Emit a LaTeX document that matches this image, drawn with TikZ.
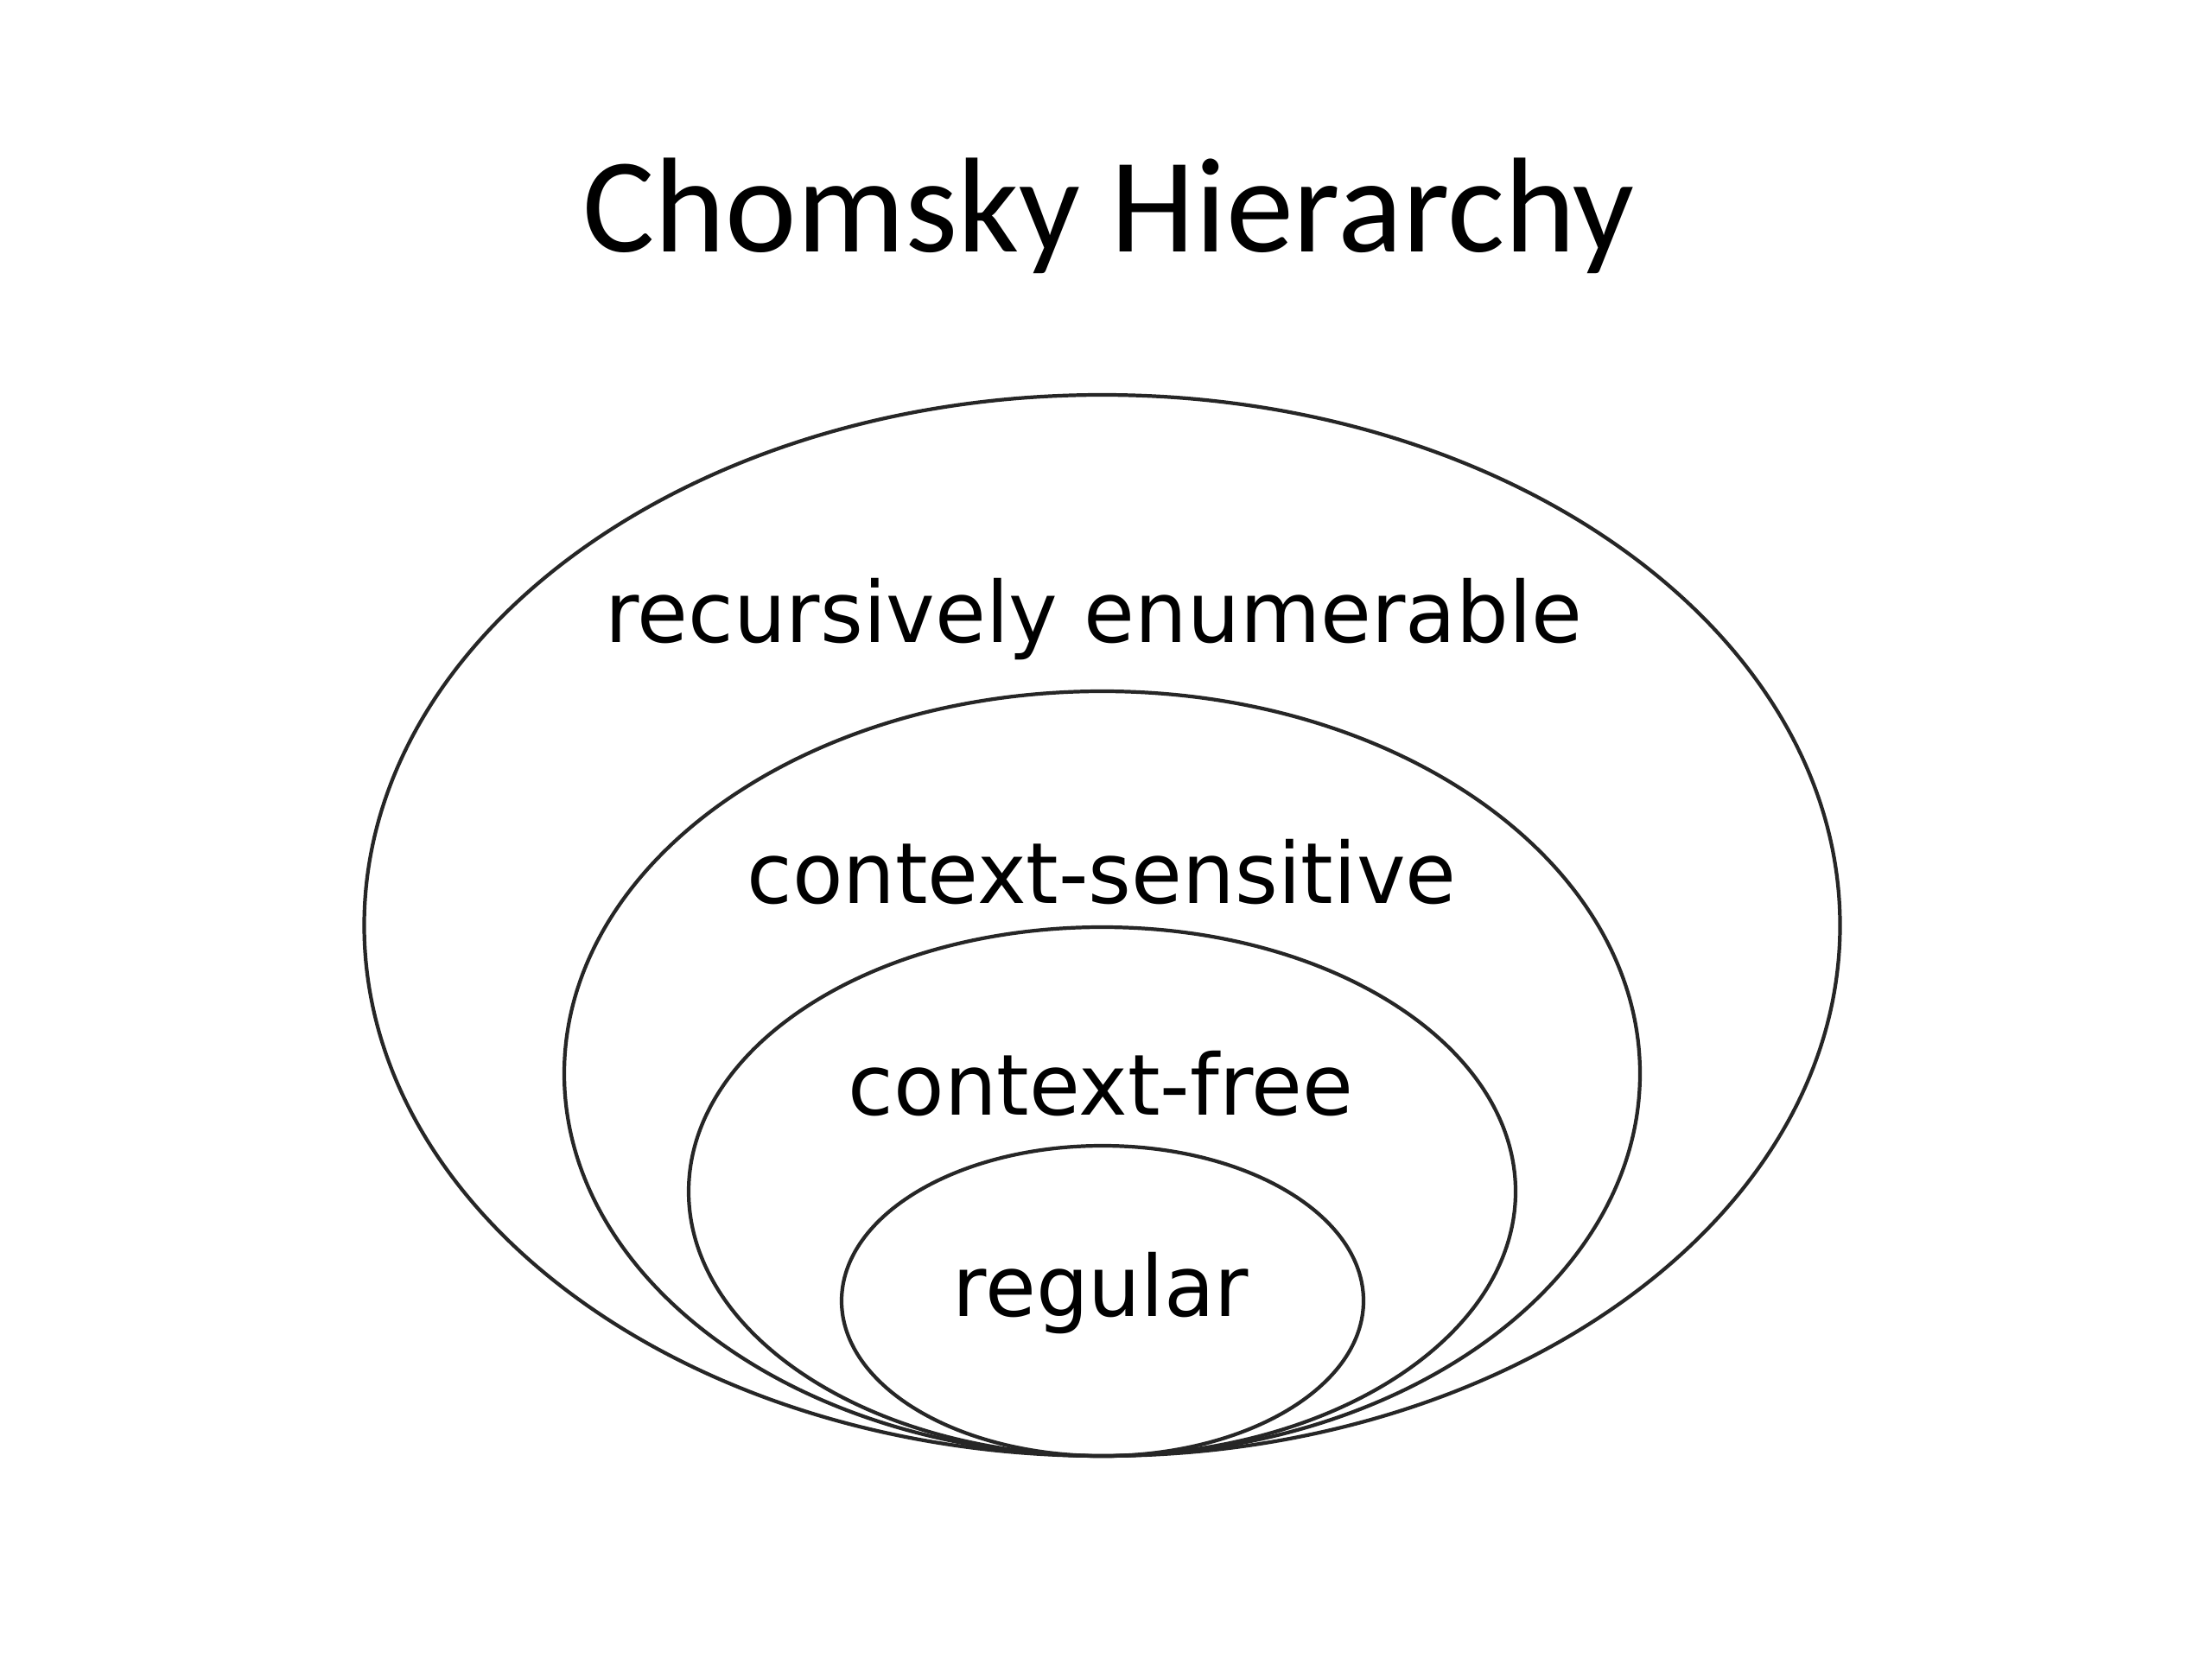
\documentclass[tikz,border=0pt]{standalone}
\usepackage{fontspec}
\usepackage{graphicx}
\usetikzlibrary{shapes.geometric}
\newfontfamily\titlefont{Carlito}
\newfontfamily\labelfont{DejaVu Sans}
\newcommand{\narrowtext}[1]{\scalebox{0.98}[1]{#1}}
\begin{document}
\begin{tikzpicture}[
  set/.style={ellipse, draw=black!85, line width=1.2pt, inner sep=0pt, fill=none},
  lbl/.style={anchor=base, inner sep=0pt, font=\labelfont\fontsize{27.8}{30}\selectfont},
  ttl/.style={anchor=base, inner sep=0pt, font=\titlefont\fontsize{44.5}{50}\selectfont}
]
\useasboundingbox[fill=white] (0,0) rectangle (25.6,-19.2);
\node[ttl] (title) at (12.83,-2.92) {Chomsky Hierarchy};
\node[set, minimum width=17.08cm, minimum height=12.28cm] (re) at (12.755,-10.71) {};
\node[set, minimum width=12.45cm, minimum height=8.85cm] (cs) at (12.755,-12.425) {};
\node[set, minimum width=9.57cm, minimum height=6.12cm] (cf) at (12.755,-13.79) {};
\node[set, minimum width=6.04cm, minimum height=3.59cm] (reg) at (12.76,-15.055) {};
\node[lbl] (tre) at (12.66,-7.43) {\narrowtext{recursively enumerable}};
\node[lbl] (tcs) at (12.75,-10.45) {\narrowtext{context-sensitive}};
\node[lbl] (tcf) at (12.74,-12.90) {\narrowtext{context-free}};
\node[lbl] (treg) at (12.74,-15.23) {\narrowtext{regular}};
\end{tikzpicture}
\end{document}
